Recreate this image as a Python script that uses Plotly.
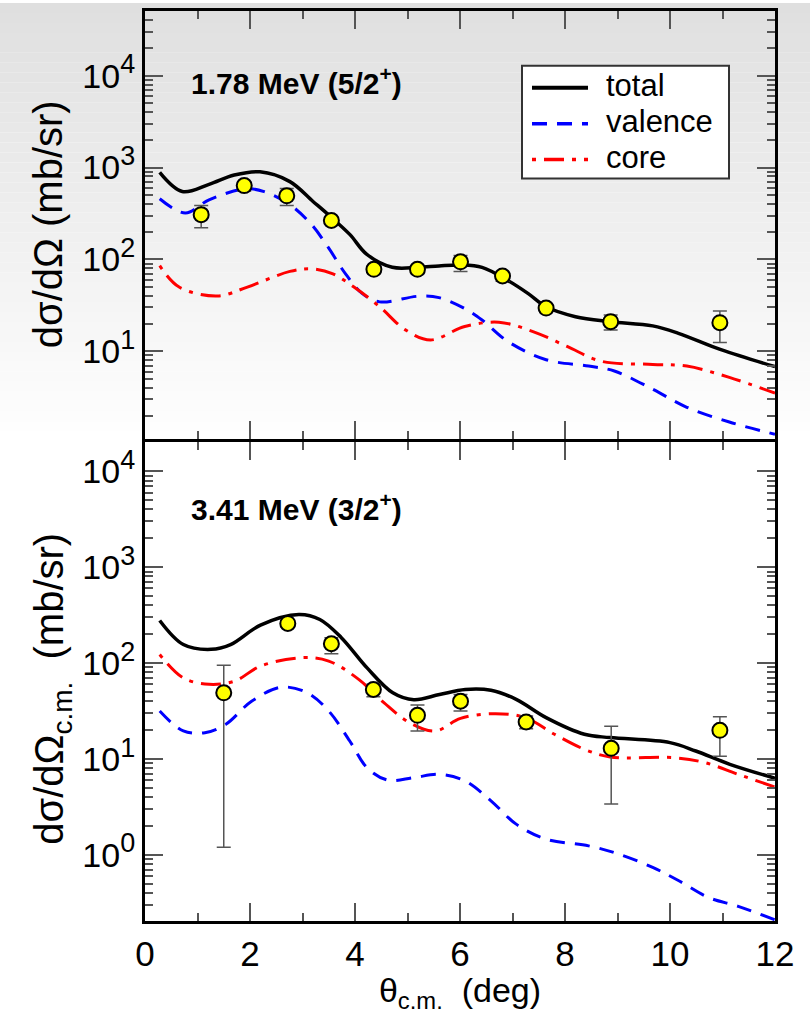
import plotly.graph_objects as go

# ---------------- 1.78 MeV (5/2+) ----------------
top_total_x = [0.28, 0.71, 1.22, 1.7, 2.19, 2.76, 3.2, 3.49, 3.9, 4.22, 4.71, 5.2, 5.6, 6.01, 6.42,
               6.91, 7.3, 7.64, 8.2, 8.86, 9.67, 10.16, 10.97, 12.0]
top_total_y = [883, 547, 656, 828, 897, 702, 427, 307, 187, 114, 82, 82, 85, 87, 82,
               59, 42.4, 30.5, 23.8, 21, 18.9, 15.7, 10.4, 6.8]

top_val_x = [0.28, 0.77, 1.22, 1.91, 2.27, 2.76, 3.17, 3.49, 3.82, 4.14, 4.47, 5.2, 5.6, 6.09,
             6.42, 6.91, 7.64, 8.45, 8.94, 9.67, 10.32, 11.13, 12.0]
top_val_y = [457, 320, 445, 585, 547, 394, 240, 135, 69.5, 42.4, 34.5, 39.7, 38.4, 29.2,
             21.9, 12.8, 8.1, 6.9, 6.1, 3.87, 2.46, 1.70, 1.25]

top_core_x = [0.28, 0.65, 1.38, 1.95, 2.76, 3.17, 3.58, 3.98, 4.47, 4.96, 5.44, 6.09, 6.74,
              7.39, 8.04, 8.69, 9.67, 10.32, 11.13, 12.0]
top_core_y = [85.5, 50, 40, 50, 74, 79, 69.5, 50, 30.5, 17.1, 13.3, 18.6, 20.7,
              16.4, 11.3, 7.8, 7.2, 6.9, 5.2, 3.5]

top_exp_x = [1.07, 1.89, 2.70, 3.55, 4.36, 5.19, 6.01, 6.81, 7.64, 8.87, 10.95]
top_exp_y = [307, 635, 492, 265, 78, 78, 94, 66, 29.5, 21, 20.5]
top_err_up = [80, 63, 100, 20, 8, 8, 16, 8, 3, 3.8, 7]
top_err_dn = [86, 79, 105, 20, 8, 8, 20, 8, 3, 3.9, 8]

# ---------------- 3.41 MeV (3/2+) ----------------
bot_total_x = [0.28, 0.73, 1.26, 1.63, 2.2, 2.93, 3.33, 3.74, 4.23, 4.72, 5.12, 5.61, 6.1, 6.59,
               7.07, 7.64, 8.37, 8.86, 10.0, 10.49, 11.14, 12.0]
bot_total_y = [278, 156, 139, 156, 249, 321, 285, 184, 89, 49, 41.5, 47, 53, 52,
               41.9, 27, 18.1, 16.7, 14.8, 12.1, 8.8, 6.3]

bot_core_x = [0.28, 0.73, 1.22, 1.71, 2.2, 3.01, 3.5, 4.07, 4.55, 5.04, 5.53, 6.01, 6.67, 7.24,
              7.8, 8.37, 8.86, 10.08, 10.65, 11.3, 12.0]
bot_core_y = [123, 70, 60, 65, 93, 114, 105, 67.6, 38.6, 23.9, 19.6, 26.5, 29.7, 27,
              18.1, 12.6, 10.5, 10.3, 9.2, 6.9, 5.1]

bot_val_x = [0.28, 0.73, 1.14, 1.54, 2.03, 2.6, 3.09, 3.5, 3.9, 4.23, 4.63, 5.12, 5.61, 6.1,
             6.59, 7.07, 7.64, 8.45, 9.02, 9.67, 10.16, 10.73, 11.3, 12.0]
bot_val_y = [31.6, 19.6, 18.8, 23, 40, 56, 49, 31.6, 15.4, 8.1, 6.0, 6.4, 6.9, 5.9,
             3.66, 2.09, 1.46, 1.24, 1.02, 0.74, 0.54, 0.36, 0.29, 0.21]

bot_exp_x = [1.50, 2.72, 3.55, 4.35, 5.19, 6.01, 7.26, 8.88, 10.95]
bot_exp_y = [49, 259, 159, 53, 28.5, 40, 24.3, 12.9, 19.9]
bot_err_up = [46, 20, 25, 7, 8, 7, 3.7, 9, 7.7]
bot_err_dn = [47.8, 20, 34, 8.4, 8.9, 8.4, 3.6, 9.5, 9.2]

x_ticks = [0, 2, 4, 6, 8, 10, 12]
top_decades = [1, 2, 3, 4]
bot_decades = [0, 1, 2, 3, 4]

series_names = ["total", "valence", "core"]
series_colors = ["black", "#0000ff", "#ff0000"]
series_widths = [3.5, 3, 3]
series_dashes = ["solid", "15px,10px", "4px,8px,20px,8px"]

FONT = "Liberation Sans, Arial, Helvetica, sans-serif"
W, H = 810, 1014
ML, MR, MT, MB = 145, 35, 8, 93
Y_SPLIT = 440  # pixel row of the shared border between panels
LW = 3         # frame line width

plot_w = W - ML - MR
plot_h = H - MT - MB
split = (H - MB - Y_SPLIT) / plot_h


def px_x(px):
    return (px - ML) / plot_w


def px_y(py):
    return (H - MB - py) / plot_h


fig = go.Figure()


def add_panel(xa, ya, curves, ex, ey, eu, ed):
    for (cx, cy), name, col, wd, dash in zip(curves, series_names, series_colors,
                                             series_widths, series_dashes):
        fig.add_trace(go.Scatter(x=cx, y=cy, mode="lines", name=name, showlegend=False,
                                 line=dict(color=col, width=wd, dash=dash,
                                           shape="spline", smoothing=1.0),
                                 xaxis=xa, yaxis=ya))
    fig.add_trace(go.Scatter(x=ex, y=ey, mode="markers", showlegend=False,
                             marker=dict(symbol="circle", size=15, color="#ffff00",
                                         line=dict(color="black", width=2)),
                             error_y=dict(type="data", symmetric=False, array=eu, arrayminus=ed,
                                          color="#555555", thickness=1.5, width=7),
                             xaxis=xa, yaxis=ya))


add_panel("x", "y",
          [(top_total_x, top_total_y), (top_val_x, top_val_y), (top_core_x, top_core_y)],
          top_exp_x, top_exp_y, top_err_up, top_err_dn)
add_panel("x2", "y2",
          [(bot_total_x, bot_total_y), (bot_val_x, bot_val_y), (bot_core_x, bot_core_y)],
          bot_exp_x, bot_exp_y, bot_err_up, bot_err_dn)


def x_axis(show_labels, anchor, title=None):
    d = dict(range=[0, 12], anchor=anchor, tickmode="array", tickvals=x_ticks,
             ticktext=[str(v) for v in x_ticks], showticklabels=show_labels,
             ticks="inside", ticklen=18, tickwidth=2, tickcolor="#555555",
             minor=dict(tickmode="array", tickvals=[1, 3, 5, 7, 9, 11], ticks="inside",
                        ticklen=8, tickwidth=2, tickcolor="#555555"),
             showline=True, linecolor="black", linewidth=LW, mirror="allticks",
             showgrid=False, zeroline=False,
             tickfont=dict(family=FONT, size=35, color="black"))
    if title:
        d["title"] = dict(text=title, font=dict(family=FONT, size=34, color="black"), standoff=4)
    return d


def y_axis(rng, decades, domain, anchor):
    minors = [m * 10 ** d for d in range(decades[0] - 1, decades[-1] + 1) for m in range(2, 10)]
    return dict(type="log", range=rng, domain=domain, anchor=anchor,
                tickmode="array", tickvals=[10 ** d for d in decades],
                ticktext=["10<sup><span style='font-size:27px'>%d</span></sup>" % d
                          for d in decades],
                ticks="inside", ticklen=18, tickwidth=2, tickcolor="#555555",
                minor=dict(tickmode="array", tickvals=minors, ticks="inside",
                           ticklen=8, tickwidth=2, tickcolor="#555555"),
                showline=True, linecolor="black", linewidth=LW, mirror="allticks",
                showgrid=False, zeroline=False,
                tickfont=dict(family=FONT, size=34, color="black"))


# vertical grey-to-white wash behind everything
shapes = []
x0p, x1p = px_x(0), px_x(W)
for i in range(44):
    y_top = i * 10
    g = int(round(223 + (255 - 223) * min(1.0, (y_top + 5) / 440.0)))
    shapes.append(dict(type="rect", xref="paper", yref="paper", layer="below",
                       x0=x0p, x1=x1p, y0=px_y(y_top + 10), y1=px_y(y_top),
                       fillcolor="rgb(%d,%d,%d)" % (g, g, g), line=dict(width=0)))

# legend box with line samples
LEG_L, LEG_R, LEG_T, LEG_B = 522, 729, 63, 176
shapes.append(dict(type="rect", xref="paper", yref="paper", layer="above",
                   x0=px_x(LEG_L), x1=px_x(LEG_R), y0=px_y(LEG_B), y1=px_y(LEG_T),
                   fillcolor="white", line=dict(color="#333333", width=2)))
legend_rows = [85, 121, 157]
annotations = []
for row, name, col, wd, dash in zip(legend_rows, series_names, series_colors,
                                    series_widths, series_dashes):
    shapes.append(dict(type="line", xref="paper", yref="paper", layer="above",
                       x0=px_x(532), x1=px_x(588), y0=px_y(row), y1=px_y(row),
                       line=dict(color=col, width=wd + 0.5, dash=dash)))
    annotations.append(dict(text=name, xref="paper", yref="paper",
                            x=px_x(604), y=px_y(row - 2), xanchor="left", yanchor="middle",
                            showarrow=False, font=dict(family=FONT, size=31, color="black")))

# panel labels
annotations += [
    dict(text="<b>1.78 MeV (5/2<sup>+</sup>)</b>", xref="paper", yref="paper",
         x=px_x(189), y=px_y(78), xanchor="left", yanchor="middle", showarrow=False,
         font=dict(family=FONT, size=30, color="black")),
    dict(text="<b>3.41 MeV (3/2<sup>+</sup>)</b>", xref="paper", yref="paper",
         x=px_x(189), y=px_y(506), xanchor="left", yanchor="middle", showarrow=False,
         font=dict(family=FONT, size=30, color="black")),
]

# y-axis titles
annotations += [
    dict(text="dσ/dΩ (mb/sr)", xref="paper", yref="paper", textangle=-90,
         x=px_x(48), y=px_y(222), xanchor="center", yanchor="middle", showarrow=False,
         font=dict(family=FONT, size=40, color="black")),
    dict(text="dσ/dΩ<sub>c.m.</sub>\u00a0\u00a0(mb/sr)", xref="paper", yref="paper",
         textangle=-90, x=px_x(52), y=px_y(688), xanchor="center", yanchor="middle",
         showarrow=False, font=dict(family=FONT, size=40, color="black")),
]

fig.update_layout(
    width=W, height=H,
    margin=dict(l=ML, r=MR, t=MT, b=MB),
    paper_bgcolor="white", plot_bgcolor="rgba(0,0,0,0)",
    showlegend=False,
    xaxis=x_axis(False, "y"),
    # top panel lifted by one line width so the two frame lines coincide
    yaxis=y_axis([0.05, 4.703], top_decades, [split + LW / plot_h, 1.0], "x"),
    xaxis2=x_axis(True, "y2", "θ<sub>c.m.</sub>\u00a0\u00a0(deg)"),
    yaxis2=y_axis([-0.69, 4.31], bot_decades, [0.0, split], "x2"),
    shapes=shapes,
    annotations=annotations,
)

fig.write_html("out.html")
